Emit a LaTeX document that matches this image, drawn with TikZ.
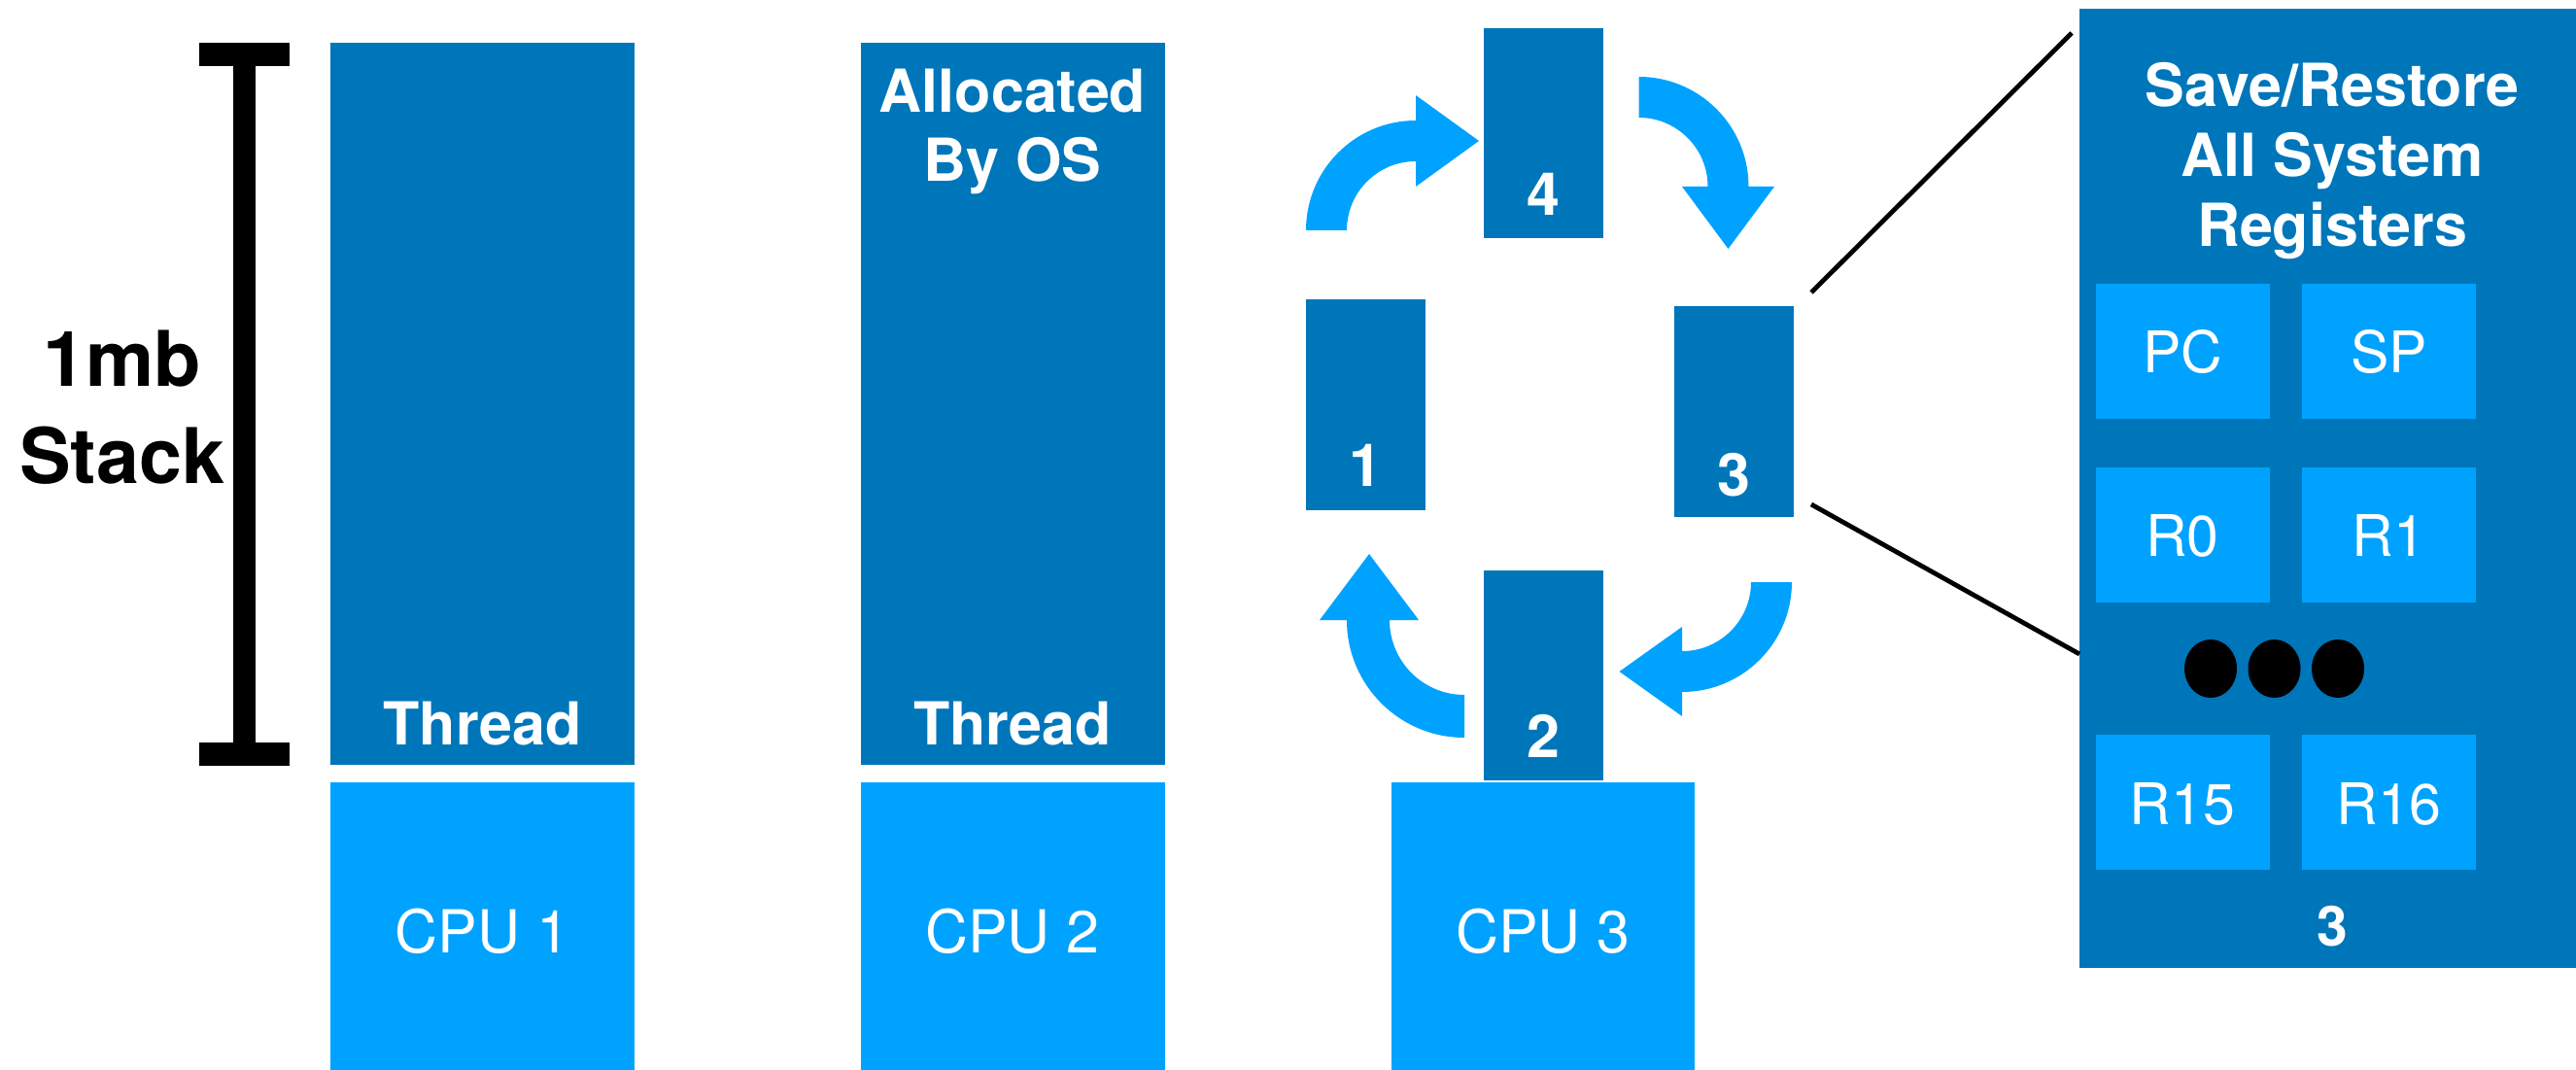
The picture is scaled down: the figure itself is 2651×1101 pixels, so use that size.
\documentclass[tikz,border=0pt]{standalone}
\usepackage{fontspec}
\setmainfont{TeX Gyre Heros}
\definecolor{dkblue}{HTML}{0076BA}
\definecolor{ltblue}{HTML}{00A2FF}
\begin{document}
\begin{tikzpicture}[x=0.5pt,y=-0.5pt,
  stackbox/.style={fill=dkblue, draw=none, inner sep=0pt, outer sep=0pt, anchor=north west},
  cpubox/.style={fill=ltblue, draw=none, inner sep=0pt, outer sep=0pt, anchor=north west},
  boldlbl/.style={text=white, font=\bfseries\fontsize{30.5}{36}\selectfont, anchor=base, inner sep=0pt},
  plainlbl/.style={text=white, font=\fontsize{30.5}{36}\selectfont, anchor=base, inner sep=0pt},
  reglbl/.style={text=white, font=\fontsize{29.5}{35}\selectfont, anchor=base, inner sep=0pt},
  sizelbl/.style={text=black, font=\bfseries\fontsize{39.5}{47}\selectfont, anchor=base, inner sep=0pt},
  blockarrow/.style={fill=ltblue, draw=none},
  zoomline/.style={draw=black, line width=2.4pt},
  dot/.style={fill=black, draw=none}
]
\useasboundingbox (0,0) rectangle (2651,1101);

% size bracket
\fill[black] (205,44) rectangle (298,68);
\fill[black] (240,68) rectangle (263,764);
\fill[black] (205,764) rectangle (298,788);
\node[sizelbl] (mb) at (126,398) {1mb};
\node[sizelbl] (stk) at (126,497) {Stack};

% column 1
\node[stackbox, minimum width=156.5pt, minimum height=371.5pt] (thr1) at (340,44) {};
\node[cpubox, minimum width=156.5pt, minimum height=148pt] (cpu1) at (340,805) {};
\node[boldlbl] (thr1t) at (496.5,766) {Thread};
\node[plainlbl] (cpu1t) at (496.5,980) {CPU 1};

% column 2
\node[stackbox, minimum width=156.25pt, minimum height=371.5pt] (thr2) at (886,44) {};
\node[cpubox, minimum width=156.25pt, minimum height=148pt] (cpu2) at (886,805) {};
\node[boldlbl] (alloc1) at (1042,116) {Allocated};
\node[boldlbl] (alloc2) at (1042,187) {By OS};
\node[boldlbl] (thr2t) at (1042,766) {Thread};
\node[plainlbl] (cpu2t) at (1042,980) {CPU 2};

% column 3
\node[cpubox, minimum width=156.25pt, minimum height=148pt] (cpu3) at (1431.5,805) {};
\node[plainlbl] (cpu3t) at (1588,980) {CPU 3};
\node[stackbox, minimum width=61.5pt, minimum height=108pt] (b4) at (1527,29) {};
\node[stackbox, minimum width=61.5pt, minimum height=108.5pt] (b1) at (1343.5,308) {};
\node[stackbox, minimum width=61.5pt, minimum height=108.5pt] (b3) at (1722.5,315) {};
\node[stackbox, minimum width=61.5pt, minimum height=108pt] (b2) at (1527,587) {};
\node[boldlbl] (b4t) at (1588,222) {4};
\node[boldlbl] (b1t) at (1405,501) {1};
\node[boldlbl] (b3t) at (1784,510) {3};
\node[boldlbl] (b2t) at (1588,779) {2};

% cycle arrows
\path[blockarrow] (1344,237) arc[start angle=180, end angle=270, radius=113]
  -- (1457,98) -- (1522,145) -- (1457,192) -- (1457,166)
  arc[start angle=270, end angle=180, radius=71] -- cycle;
\path[blockarrow] (1686.5,79) arc[start angle=270, end angle=360, radius=113]
  -- (1826,192) -- (1778.5,256) -- (1731,192) -- (1757.5,192)
  arc[start angle=0, end angle=-90, radius=71] -- cycle;
\path[blockarrow] (1844,599) arc[start angle=0, end angle=90, radius=113]
  -- (1731,737) -- (1666.5,691) -- (1731,645) -- (1731,670)
  arc[start angle=90, end angle=0, radius=71] -- cycle;
\path[blockarrow] (1507,759) arc[start angle=90, end angle=180, radius=121]
  -- (1358,638) -- (1409,570) -- (1460,638) -- (1430,638)
  arc[start angle=180, end angle=90, radius=77] -- cycle;

% detail panel
\node[stackbox, minimum width=255.5pt, minimum height=493.5pt] (panel) at (2140,9) {};
\node[boldlbl] (ttl1) at (2400,110) {Save/Restore};
\node[boldlbl] (ttl2) at (2400,182) {All System};
\node[boldlbl] (ttl3) at (2400,254) {Registers};
\node[cpubox, minimum width=89.5pt, minimum height=69.5pt] (pc) at (2156.5,292) {};
\node[cpubox, minimum width=89.5pt, minimum height=69.5pt] (sp) at (2369,292) {};
\node[cpubox, minimum width=89.5pt, minimum height=69.5pt] (r0) at (2156.5,481) {};
\node[cpubox, minimum width=89.5pt, minimum height=69.5pt] (r1) at (2369,481) {};
\node[cpubox, minimum width=89.5pt, minimum height=69.5pt] (r15) at (2156.5,756) {};
\node[cpubox, minimum width=89.5pt, minimum height=69.5pt] (r16) at (2369,756) {};
\node[reglbl] (pct) at (2246,384) {PC};
\node[reglbl] (spt) at (2458.5,384) {SP};
\node[reglbl] (r0t) at (2246,572) {R0};
\node[reglbl] (r1t) at (2458.5,572) {R1};
\node[reglbl] (r15t) at (2246,848) {R15};
\node[reglbl] (r16t) at (2458.5,848) {R16};
\fill[dot] (2275,688) ellipse[x radius=27, y radius=30];
\fill[dot] (2340.5,688) ellipse[x radius=27, y radius=30];
\fill[dot] (2406,688) ellipse[x radius=27, y radius=30];
\node[boldlbl, font=\bfseries\fontsize{28.5}{34}\selectfont] (pnum) at (2400.5,973) {3};

% zoom lines
\coordinate (zu1) at (1864,301);
\coordinate (zu2) at (2132,34);
\coordinate (zl1) at (1864,519);
\coordinate (zl2) at (2140,673);
\draw[zoomline] (zu1) -- (zu2);
\draw[zoomline] (zl1) -- (zl2);
\end{tikzpicture}
\end{document}
